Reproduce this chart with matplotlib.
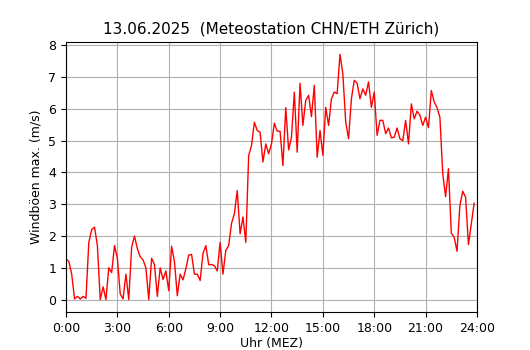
import numpy as np
import matplotlib
matplotlib.use('Agg')
import matplotlib.pyplot as plt

# Windböen max., 10-Minuten-Werte von 0:00 bis 23:50
gust = [
    1.28, 1.2, 0.8, 0.02, 0.1, 0.02,
    0.1, 0.04, 1.8, 2.2, 2.28, 1.7,
    0.0, 0.4, 0.0, 1.0, 0.85, 1.7,
    1.3, 0.18, 0.02, 0.8, 0.0, 1.65,
    2.0, 1.6, 1.35, 1.25, 1.0, 0.0,
    1.3, 1.1, 0.1, 1.0, 0.63, 0.9,
    0.28, 1.68, 1.2, 0.12, 0.8, 0.62,
    0.97, 1.4, 1.42, 0.8, 0.8, 0.6,
    1.45, 1.7, 1.1, 1.1, 1.07, 0.9,
    1.8, 0.8, 1.55, 1.7, 2.4, 2.7,
    3.43, 2.07, 2.6, 1.8, 4.53, 4.85,
    5.58, 5.32, 5.27, 4.33, 4.9, 4.59,
    4.9, 5.55, 5.3, 5.3, 4.22, 6.04,
    4.71, 5.11, 6.53, 4.64, 6.81, 5.48,
    6.27, 6.43, 5.76, 6.74, 4.48, 5.32,
    4.54, 6.05, 5.48, 6.32, 6.53, 6.48,
    7.72, 7.1, 5.59, 5.06, 6.32, 6.9,
    6.81, 6.32, 6.63, 6.43, 6.85, 6.05,
    6.53, 5.17, 5.64, 5.64, 5.22, 5.4,
    5.09, 5.11, 5.4, 5.06, 5.0, 5.64,
    4.9, 6.16, 5.69, 5.93, 5.8, 5.48,
    5.74, 5.41, 6.58, 6.22, 6.04, 5.74,
    3.96, 3.24, 4.12, 2.09, 1.96, 1.52,
    2.96, 3.41, 3.22, 1.73, 2.38, 3.03,
]
hours = np.arange(len(gust)) / 6.0

tick_hours = [0, 3, 6, 9, 12, 15, 18, 21, 24]
tick_labels = [f"{h}:00" for h in tick_hours]

fig = plt.figure(figsize=(5.3, 3.5), dpi=100)
ax = fig.add_axes([0.1245, 0.109, 0.7755, 0.771])
ax.plot(hours, gust, color='red', linewidth=1)
ax.set_xlim(0, 24)
ax.set_xticks(tick_hours)
ax.set_xticklabels(tick_labels)
ax.set_yticks(range(0, 9))
ax.grid(True)
ax.set_title('13.06.2025  (Meteostation CHN/ETH Zürich)', fontsize=11)
ax.set_xlabel('Uhr (MEZ)', fontsize=9, labelpad=2)
ax.set_ylabel('Windböen max. (m/s)', fontsize=9)
ax.tick_params(labelsize=9)
fig.savefig('out.png', dpi=100)
